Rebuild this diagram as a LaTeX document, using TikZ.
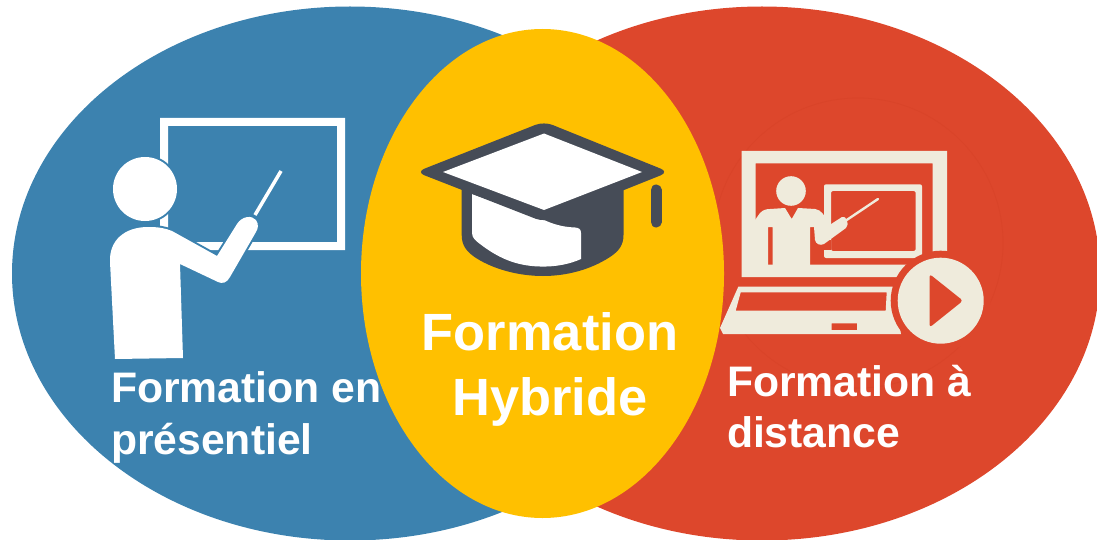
\documentclass[tikz,border=0pt]{standalone}
\usepackage{fontspec}
\setmainfont{Liberation Sans}[Ligatures=NoCommon]
\definecolor{blueC}{HTML}{3C82AF}
\definecolor{redC}{HTML}{DD472C}
\definecolor{ringC}{HTML}{D94429}
\definecolor{yellowC}{HTML}{FFC000}
\definecolor{creamC}{HTML}{EFEBDC}
\definecolor{darkC}{HTML}{464C57}
\tikzset{
  label small/.style={text=white,font=\bfseries\fontsize{42.7}{51.5}\selectfont,inner sep=0pt,outer sep=0pt,align=left,anchor=base west},
  label big/.style={text=white,font=\bfseries\fontsize{52.4}{64.5}\selectfont,inner sep=0pt,outer sep=0pt,align=center,anchor=base},
  white part/.style={fill=white,draw=none},
  halo part/.style={fill=white,preaction={draw=blueC,line width=4pt}},
  cream part/.style={fill=creamC,draw=none},
  red part/.style={fill=redC,draw=none},
  dark part/.style={fill=darkC,draw=none},
}
\begin{document}
\begin{tikzpicture}[x=1pt,y=-1pt]
\useasboundingbox (0,0) rectangle (1097,540);
% discs
\fill[blueC] (350,273.5) ellipse [x radius=338pt,y radius=267pt];
\fill[redC] (762,273.5) ellipse [x radius=338pt,y radius=267pt];
\draw[ringC,line width=0.8pt] (858,243) circle [radius=145pt];
\fill[yellowC] (542.5,273.5) ellipse [x radius=181.5pt,y radius=244.5pt];
% teacher at the board
\fill[white,even odd rule] (160,118) rectangle (345,250) (168,126) rectangle (337,242);
\draw[white,line width=3.5pt] (255,215) -- (281,171);
\path[halo part] (145,189) circle [radius=32pt];
\path[halo part]
  (115,359) -- (110,262) .. controls (109,240) and (125,227) .. (148,227)
  .. controls (158,227) and (165,228) .. (172,231) -- (217,256) -- (237,224)
  .. controls (242,216) and (252,215) .. (256,220) .. controls (259,224) and (258,229) .. (256,232)
  -- (230,277) .. controls (227,283) and (222,284) .. (218,282) -- (180,264) -- (183,358) -- cycle;
% graduation cap
\path[dark part] (461.7,185) -- (461.7,235) .. controls (461.7,246) and (467,252) .. (476,258)
  .. controls (495,270) and (520,276) .. (543,276) .. controls (566,276) and (590,270) .. (610,257)
  .. controls (619,251) and (623.5,245) .. (623.5,235) -- (623.5,185) -- cycle;
\path[white part] (472,194) -- (472,233) .. controls (472,238) and (476,241) .. (480,244)
  .. controls (497,257) and (515,266) .. (540,266.5) .. controls (556,267) and (570,264) .. (581,259)
  -- (581,233) .. controls (581,229) and (579,228) .. (575,227.5) .. controls (562,227) and (553,224) .. (544,220) -- cycle;
\path[dark part,rounded corners=9pt] (544,121.5) -- (669,172) -- (544,222) -- (416,172) -- cycle;
\path[white part] (544,133.5) -- (642,172) -- (544,210) -- (443,172) -- cycle;
\draw[darkC,line width=11pt,line cap=round] (656,190) -- (656,222);
% laptop
\fill[creamC,even odd rule] (741.7,151) rectangle (947,277) (755.7,163.5) rectangle (932.7,264.5);
\fill[creamC,even odd rule,rounded corners=2pt] (824,184.3) rectangle (922,258) (831,191) rectangle (915.7,251);
\path[red part] (822,240) rectangle (831,250);
\path[cream part] (755,220) -- (760,213) .. controls (763,210) and (766,209) .. (770,209) -- (785,208) -- (791.7,219) -- (798,208)
  -- (815,209) .. controls (821,210) and (825,214) .. (828,226) -- (842,217) .. controls (846,215) and (850,224) .. (846,228)
  -- (824,244) .. controls (820,246) and (816,244) .. (815,240) -- (814,227) -- (810,227) -- (810,265) -- (772.7,265) -- (772.7,227)
  -- (768,227) -- (768,265) -- (755,265) -- cycle;
\path[cream part] (791,191) circle [radius=14.8pt];
\draw[creamC,line width=2.4pt,line cap=round] (846.7,220) -- (878,199);
\fill[creamC,even odd rule] (738.3,286.7) -- (892.7,286.7) -- (901,334) -- (723,334) -- (720,328) -- cycle
  (740.7,292.3) -- (886.7,292.3) -- (885.7,310.7) -- (735.7,310.7) -- cycle
  (831.7,323.3) rectangle (857,330);
\path[red part] (940.7,300.7) circle [radius=50pt];
\path[cream part] (940.7,300.7) circle [radius=43pt];
\path[red part,rounded corners=3pt] (929.5,274) -- (963,300.7) -- (929.5,327.5) -- cycle;
% labels
\node[label small] (presentiel) at (111,454) {Formation en\\présentiel};
\node[label big] (hybride) at (550,415) {Formation\\Hybride};
\node[label small] (distance) at (727,447.7) {Formation à\\distance};
\end{tikzpicture}
\end{document}
